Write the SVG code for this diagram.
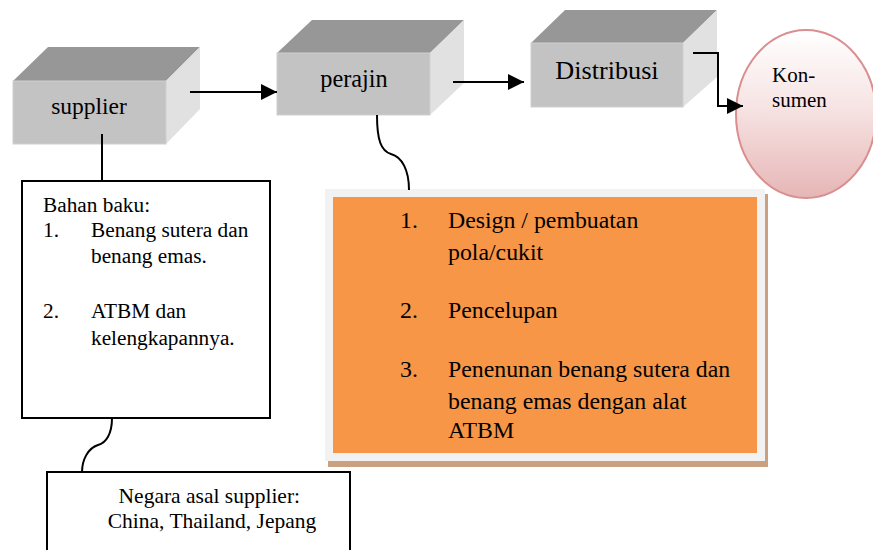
<svg xmlns="http://www.w3.org/2000/svg" width="873" height="550" viewBox="0 0 873 550">
<style>
  text { font-family: 'Liberation Serif', serif; fill: #000; }
  .front { fill: #c3c3c3; stroke: #cfcfcf; stroke-width: 1; }
  .top { fill: #979797; }
  .side { fill: #e1e1e1; }
  .line { fill: none; stroke: #000; stroke-width: 2; }
  .box { fill: #fff; stroke: #000; stroke-width: 2; }
</style>
<defs>
  <marker id="arr" markerWidth="16" markerHeight="16" refX="16" refY="8" orient="auto" markerUnits="userSpaceOnUse">
    <path d="M0,0 L16,8 L0,16 Z" fill="#000"/>
  </marker>
  <linearGradient id="pink" x1="0" y1="0" x2="0" y2="1">
    <stop offset="0" stop-color="#ffffff"/>
    <stop offset="0.45" stop-color="#f7e4e4"/>
    <stop offset="1" stop-color="#e6b6b6"/>
  </linearGradient>
</defs>

<g id="supplier">
  <polygon class="top" points="13,81 48,47 200,47 166,81"/>
  <polygon class="side" points="166,81 200,47 200,109 166,144"/>
  <rect class="front" x="13" y="81" width="153" height="63"/>
  <text x="89" y="114" font-size="23.5" text-anchor="middle">supplier</text>
</g>

<g id="perajin">
  <polygon class="top" points="277,53 312,20 464,20 430,53"/>
  <polygon class="side" points="430,53 464,20 464,83 430,115"/>
  <rect class="front" x="277" y="53" width="153" height="62"/>
  <text x="354" y="87" font-size="24.3" text-anchor="middle">perajin</text>
</g>

<g id="distribusi">
  <polygon class="top" points="531,43 565,10 717,10 683,43"/>
  <polygon class="side" points="683,43 717,10 717,77 683,107"/>
  <rect class="front" x="531" y="43" width="152" height="64"/>
  <text x="607" y="79" font-size="26.2" text-anchor="middle">Distribusi</text>
</g>

<g id="konsumen">
  <ellipse cx="806" cy="114" rx="70" ry="84" fill="url(#pink)" stroke="#d98f8f" stroke-width="2"/>
  <text x="772" y="82" font-size="21">Kon-</text>
  <text x="772" y="107" font-size="21">sumen</text>
</g>

<g id="bahan-baku">
  <rect class="box" x="22" y="181" width="248" height="237"/>
  <text font-size="21.3">
    <tspan x="43" y="212">Bahan baku:</tspan>
    <tspan x="43" y="237">1.</tspan>
    <tspan x="91" y="237">Benang sutera dan</tspan>
    <tspan x="91" y="263">benang emas.</tspan>
    <tspan x="43" y="318">2.</tspan>
    <tspan x="91" y="318">ATBM dan</tspan>
    <tspan x="91" y="345">kelengkapannya.</tspan>
  </text>
</g>

<g id="proses">
  <rect x="328" y="194" width="440" height="273" fill="#c9a080"/>
  <rect x="325" y="189" width="440" height="272" fill="#f2f2f2"/>
  <rect x="333" y="197" width="424" height="256" fill="#f79646"/>
  <text font-size="23.8">
    <tspan x="400" y="228">1.</tspan>
    <tspan x="448" y="228">Design / pembuatan</tspan>
    <tspan x="448" y="260">pola/cukit</tspan>
    <tspan x="400" y="318">2.</tspan>
    <tspan x="448" y="318">Pencelupan</tspan>
    <tspan x="400" y="377">3.</tspan>
    <tspan x="448" y="377">Penenunan benang sutera dan</tspan>
    <tspan x="448" y="409">benang emas dengan alat</tspan>
    <tspan x="448" y="438">ATBM</tspan>
  </text>
</g>

<g id="negara">
  <rect class="box" x="47" y="472" width="303" height="90"/>
  <text font-size="21.5" text-anchor="middle">
    <tspan x="212" y="503">Negara asal supplier:</tspan>
    <tspan x="212" y="528">China, Thailand, Jepang</tspan>
  </text>
</g>

<g id="connectors">
  <line class="line" x1="190" y1="92" x2="277" y2="92" marker-end="url(#arr)"/>
  <line class="line" x1="453" y1="82" x2="524" y2="82" marker-end="url(#arr)"/>
  <polyline class="line" points="693,53 718,53 718,106 743,106" marker-end="url(#arr)"/>
  <line class="line" x1="102" y1="134" x2="102" y2="181"/>
  <path class="line" d="M377,115 C377,140 381,151 391,154 C402,157 409,170 409,190"/>
  <path class="line" d="M112,418 C112,434 106,443 98,445 C88,448 82,460 82,472"/>
</g>
</svg>
